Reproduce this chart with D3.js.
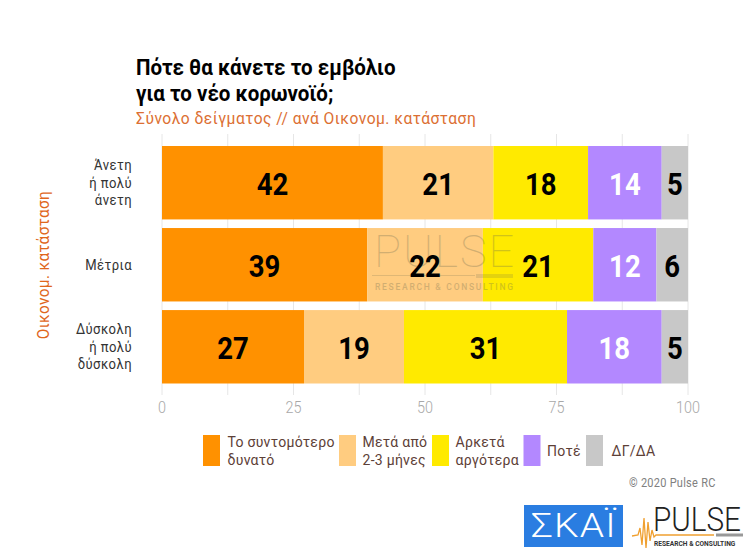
<!DOCTYPE html>
<html lang="el">
<head>
<meta charset="UTF-8">
<title>Πότε θα κάνετε το εμβόλιο</title>
<style>
  body { margin: 0; background: #fff; }
  svg { display: block; font-family: Roboto, sans-serif; }
  .grid line { stroke: #e6e6e6; stroke-width: 1px; }
  .tick-label { font-size: 16px; font-weight: 300; fill: #a8a8a8; text-anchor: middle; }
  .row-label { font-size: 14.5px; fill: #333; text-anchor: end; letter-spacing: .5px; }
  .value { font-size: 32px; font-weight: 700; text-anchor: middle; }
  .legend-label { font-size: 15.5px; fill: #5d4037; letter-spacing: .3px; }
</style>
</head>
<body>
<svg width="747" height="555"></svg>
<script src="https://d3js.org/d3.v7.min.js"></script>
<script>
const rows = ["top", "mid", "low"];
const rowLabels = [["Άνετη", "ή πολύ", "άνετη"], ["Μέτρια"], ["Δύσκολη", "ή πολύ", "δύσκολη"]];
const seriesNames = ["Το συντομότερο δυνατό", "Μετά από 2-3 μήνες", "Αρκετά αργότερα", "Ποτέ", "ΔΓ/ΔΑ"];
const soonest = [42, 39, 27];
const later23 = [21, 22, 19];
const muchLater = [18, 21, 31];
const never = [14, 12, 18];
const dk = [5, 6, 5];
const allSeries = [soonest, later23, muchLater, never, dk];
const colors = ["#ff9100", "#ffcc80", "#ffea00", "#b388ff", "#c8c8c8"];
const labelColors = ["#000", "#000", "#000", "#fff", "#000"];
const ticks = [0, 12.5, 25, 37.5, 50, 62.5, 75, 87.5, 100];
const tickLabels = [0, 25, 50, 75, 100];

const svg = d3.select("svg");
const x = d3.scaleLinear().domain([0, 100]).range([162, 688]);
const y = d3.scaleBand().domain(rows).range([146, 383.5]).paddingInner(0.105);

// the source font is condensed, so squeeze Roboto horizontally
function squeezed(px, py, sx, str) {
  return svg.append("text")
    .attr("transform", `translate(${px},${py}) scale(${sx},1)`)
    .text(str);
}

svg.append("g").attr("class", "grid").selectAll("line")
  .data(ticks).enter().append("line")
  .attr("x1", d => x(d)).attr("x2", d => x(d))
  .attr("y1", 134).attr("y2", 395);

tickLabels.forEach(d => squeezed(x(d), 413, 0.9, d).attr("class", "tick-label"));

const stacked = rows.map((r, i) => {
  let sum = 0;
  return allSeries.map((s, j) => {
    const item = { row: r, v: s[i], x0: sum, j };
    sum += s[i];
    return item;
  });
}).flat();

svg.selectAll(".bar")
  .data(stacked).enter().append("rect")
  .attr("class", "bar")
  .attr("x", d => x(d.x0))
  .attr("y", d => y(d.row))
  .attr("width", d => x(d.x0 + d.v) - x(d.x0))
  .attr("height", y.bandwidth())
  .attr("fill", d => colors[d.j]);

// watermark over the bars
const wm = svg.append("g").attr("opacity", 0.3).attr("fill", "#6b6b50");
wm.append("text").attr("x", 374).attr("y", 267).attr("font-size", 45).attr("font-weight", 100)
  .attr("textLength", 140).text("PULSE");
wm.append("rect").attr("x", 372).attr("y", 275).attr("width", 103).attr("height", 0.7);
wm.append("rect").attr("x", 476).attr("y", 274).attr("width", 37).attr("height", 4).attr("opacity", 0.6);
wm.append("text").attr("x", 375).attr("y", 290).attr("font-size", 8.5).attr("font-weight", 500)
  .attr("textLength", 138).text("RESEARCH & CONSULTING");

stacked.forEach(d => {
  squeezed(x(d.x0 + d.v / 2), y(d.row) + y.bandwidth() / 2 + 12, 0.86, d.v)
    .attr("class", "value")
    .attr("fill", labelColors[d.j]);
});

rows.forEach((r, i) => {
  const lines = rowLabels[i];
  const cy = y(r) + y.bandwidth() / 2;
  lines.forEach((t, k) => {
    squeezed(132, cy + 5 + (k - (lines.length - 1) / 2) * 17.5, 0.9, t).attr("class", "row-label");
  });
});

svg.append("text")
  .attr("transform", "translate(49,265) rotate(-90) scale(.93,1)")
  .attr("text-anchor", "middle").attr("font-size", 16.5).attr("fill", "#e0661c")
  .attr("letter-spacing", ".4px")
  .text("Οικονομ. κατάσταση");

squeezed(136, 75, 0.955, "Πότε θα κάνετε το εμβόλιο").attr("font-size", 21.5).attr("font-weight", 700).attr("fill", "#000");
squeezed(136, 101, 0.955, "για το νέο κορωνοϊό;").attr("font-size", 21.5).attr("font-weight", 700).attr("fill", "#000");
squeezed(136, 124, 0.92, "Σύνολο δείγματος // ανά Οικονομ. κατάσταση").attr("font-size", 17).attr("fill", "#dc6f33").attr("letter-spacing", ".5px");

// legend
const legendX = [203, 339, 432, 523.5, 586];
const legendTextX = [227.5, 362.5, 455.5, 547, 611.5];
const legendText = [["Το συντομότερο", "δυνατό"], ["Μετά από", "2-3 μήνες"], ["Αρκετά", "αργότερα"], ["Ποτέ"], ["ΔΓ/ΔΑ"]];
seriesNames.forEach((name, i) => {
  svg.append("rect").attr("x", legendX[i]).attr("y", 435).attr("width", 17).attr("height", 31).attr("fill", colors[i]);
  const lines = legendText[i];
  lines.forEach((t, k) => {
    squeezed(legendTextX[i], 456 + (k - (lines.length - 1) / 2) * 17.5, 0.905, t).attr("class", "legend-label");
  });
});

squeezed(629, 487, 0.88, "© 2020 Pulse RC").attr("font-size", 12.5).attr("fill", "#808080").attr("letter-spacing", ".3px");

// logos
svg.append("rect").attr("x", 524).attr("y", 505).attr("width", 99).attr("height", 42).attr("fill", "#2a7de1");
squeezed(531, 537, 1.18, "ΣΚΑΪ").attr("font-size", 33).attr("font-weight", 300).attr("fill", "#fff").attr("letter-spacing", "1px");
svg.append("path").attr("fill", "none").attr("stroke", "#f0a030").attr("stroke-width", 1.3)
  .attr("d", "M632,536 L638,535 L640,528 L642,545 L644,518 L646,548 L648,522 L650,541 L652,530 L654,537 L656,535 L714,535");
squeezed(653, 531, 0.9, "PULSE").attr("font-size", 33).attr("font-weight", 300).attr("fill", "#222");
svg.append("rect").attr("x", 716).attr("y", 533.5).attr("width", 27).attr("height", 3).attr("fill", "#999");
squeezed(654, 546, 0.95, "RESEARCH & CONSULTING").attr("font-size", 7).attr("font-weight", 700).attr("fill", "#333");
</script>
</body>
</html>
